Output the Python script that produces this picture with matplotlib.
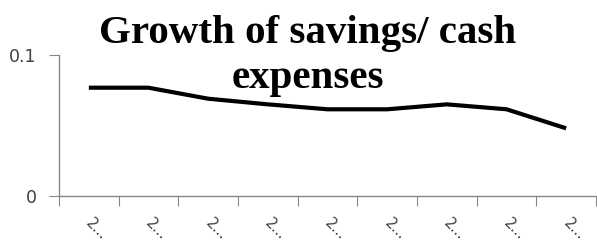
import matplotlib
matplotlib.use("Agg")
import matplotlib.pyplot as plt

categories = ["2...", "2...", "2...", "2...", "2...", "2...", "2...", "2...", "2..."]
values = [0.0768, 0.0768, 0.069, 0.065, 0.0615, 0.0615, 0.065, 0.0615, 0.048]
yticks = [0, 0.1]
ytick_labels = ["0", "0.1"]
title = "Growth of savings/ cash\nexpenses"

fig = plt.figure(figsize=(5.97, 2.44), dpi=100)
ax = fig.add_axes([59/597, 48/244, (596-59)/597, (196-55)/244])
x = list(range(len(values)))
ax.plot(x, values, color="black", lw=3.0, solid_capstyle="butt")
ax.set_xlim(-0.5, len(values) - 0.5)
ax.set_ylim(0, 0.1)
ax.set_yticks(yticks)
ax.set_yticklabels(ytick_labels, fontsize=12.5, color="#404040", family="DejaVu Sans")
ax.set_xticks([i - 0.5 for i in range(len(values) + 1)])
ax.set_xticklabels([])
for i, cat in enumerate(categories):
    ax.annotate(cat, xy=(i, 0), xycoords=("data", "axes fraction"),
                xytext=(8, -33), textcoords="offset pixels",
                rotation=-45, ha="center", va="center", fontsize=10.5,
                color="#404040")
ax.tick_params(axis="x", length=7, color="#888888", direction="out")
ax.tick_params(axis="y", length=7, color="#888888", direction="out", pad=9)
for s in ["top", "right"]:
    ax.spines[s].set_visible(False)
for s in ["left", "bottom"]:
    ax.spines[s].set_color("#888888")
    ax.spines[s].set_linewidth(1.0)
fig.text(308/597, 1 - 15/244, title, ha="center", va="top", fontsize=29.5,
         fontweight="bold", family="Liberation Serif", linespacing=1.28)
fig.savefig("out.png", dpi=100)
